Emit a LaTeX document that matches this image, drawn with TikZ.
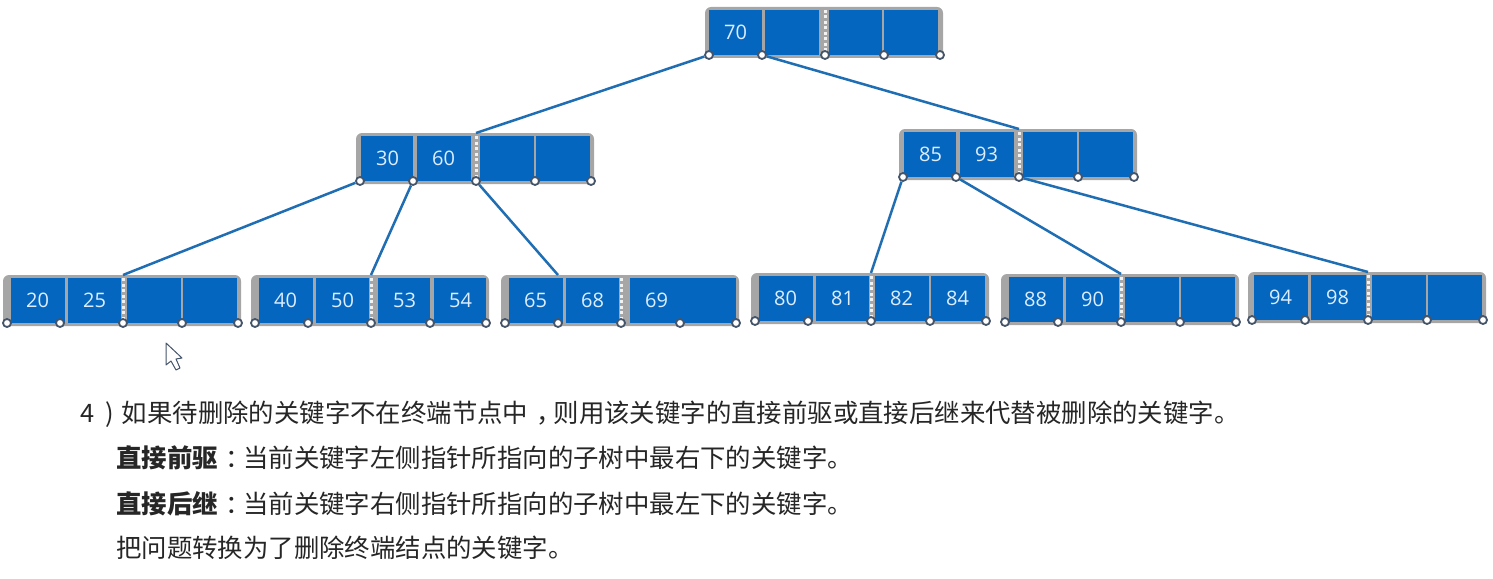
\documentclass[tikz,border=0pt]{standalone}
\usepackage{fontspec}
\setmainfont{Noto Sans CJK SC}
\newfontfamily\numfont{Open Sans}
\definecolor{cellblue}{HTML}{0566C0}
\definecolor{boxgray}{HTML}{A6A6A6}
\definecolor{edgeblue}{HTML}{1F6DB3}
\definecolor{ringblue}{HTML}{44546A}
\definecolor{keytext}{HTML}{DCEEFF}
\definecolor{linetext}{HTML}{262626}
\tikzset{
    cellbox/.style={fill=cellblue, text=keytext, inner xsep=15pt, inner ysep=0pt, minimum height=45pt, anchor=north west, align=left, font=\numfont\fontsize{20}{20}\selectfont},
    ptr/.style={circle, draw=ringblue, line width=1.8pt, fill=white, minimum size=8pt, inner sep=0pt},
    edge/.style={draw=edgeblue, line width=2.5pt},
    textline/.style={anchor=base west, inner sep=0pt, text=linetext, font=\fontsize{25.4}{26}\selectfont},
}
% name, left, top, cells (offset/width/key)
\newcommand{\btnode}[4]{
    \begin{scope}[shift={(#2,#3)}]
        \fill[boxgray, rounded corners=6pt] (0,0) rectangle (238,51);
        \foreach \cx/\cw/\ck [count=\ci] in {#4}
            \node[cellbox, text width=\cw pt-30pt] (#1-c\ci) at (\cx,3) {\ck};
        \draw[white!85!boxgray, line width=3pt, dash pattern=on 3pt off 2.5pt] (120,3) -- (120,46);
        \foreach \px [count=\pi from 0] in {4,57,120,179,235}
            \node[ptr] (#1-p\pi) at (\px,48) {};
        \foreach \px [count=\pi from 0] in {4,57,120,179,235}
            \coordinate (#1-t\pi) at (\px,0);
    \end{scope}
}

\begin{document}
\begin{tikzpicture}[x=1pt, y=-1pt]
    \useasboundingbox (0,0) rectangle (1493,578);
    \btnode{root}{705}{7}{4/53/70, 60/54/, 124/53/, 179/54/}
    \btnode{mleft}{356}{133}{5/52/30, 61/54/60, 124/54/, 180/54/}
    \btnode{mright}{899}{129}{5/52/85, 61/54/93, 124/54/, 180/54/}
    \btnode{la}{3}{275}{8/54/20, 65/53/25, 124/54/, 180/54/}
    \btnode{lb}{251}{275}{8/54/40, 65/53/50, 127/52/53, 183/52/54}
    \btnode{lc}{501}{275}{8/54/65, 65/53/68, 129/106/69}
    \btnode{ld}{751}{273}{8/54/80, 65/53/81, 124/54/82, 180/54/84}
    \btnode{le}{1001}{274}{8/54/88, 65/53/90, 124/54/, 180/54/}
    \btnode{lf}{1248}{272}{6/54/94, 63/55/98, 124/54/, 180/54/}

    \draw[edge] (root-p0) -- (mleft-t2);
    \draw[edge] (root-p1) -- (mright-t2);
    \draw[edge] (mleft-p0) -- (la-t2);
    \draw[edge] (mleft-p1) -- (lb-t2);
    \draw[edge] (mleft-p2) -- (lc-t1);
    \draw[edge] (mright-p0) -- (ld-t2);
    \draw[edge] (mright-p1) -- (le-t2);
    \draw[edge] (mright-p2) -- (lf-t2);

    % mouse pointer
    \draw[fill=white, draw=ringblue, line width=1pt, line join=round] (166,343) -- (166,365) -- (171,361) -- (176,370) -- (180,368) -- (176,359) -- (182,358) -- cycle;

    \node[textline] (line1) at (80,422) {4\hspace{11pt})\hspace{8pt}如果待删除的关键字不在终端节点中\hspace{8pt}，\hspace{-8pt}则用该关键字的直接前驱或直接后继来代替被删除的关键字。};
    \node[textline] (line2) at (116,467) {\textbf{直接前驱}\hspace{8pt}：\hspace{-8pt}当前关键字左侧指针所指向的子树中最右下的关键字。};
    \node[textline] (line3) at (116,513) {\textbf{直接后继}\hspace{8pt}：\hspace{-8pt}当前关键字右侧指针所指向的子树中最左下的关键字。};
    \node[textline] (line4) at (116,557) {把问题转换为了删除终端结点的关键字。};
\end{tikzpicture}
\end{document}
